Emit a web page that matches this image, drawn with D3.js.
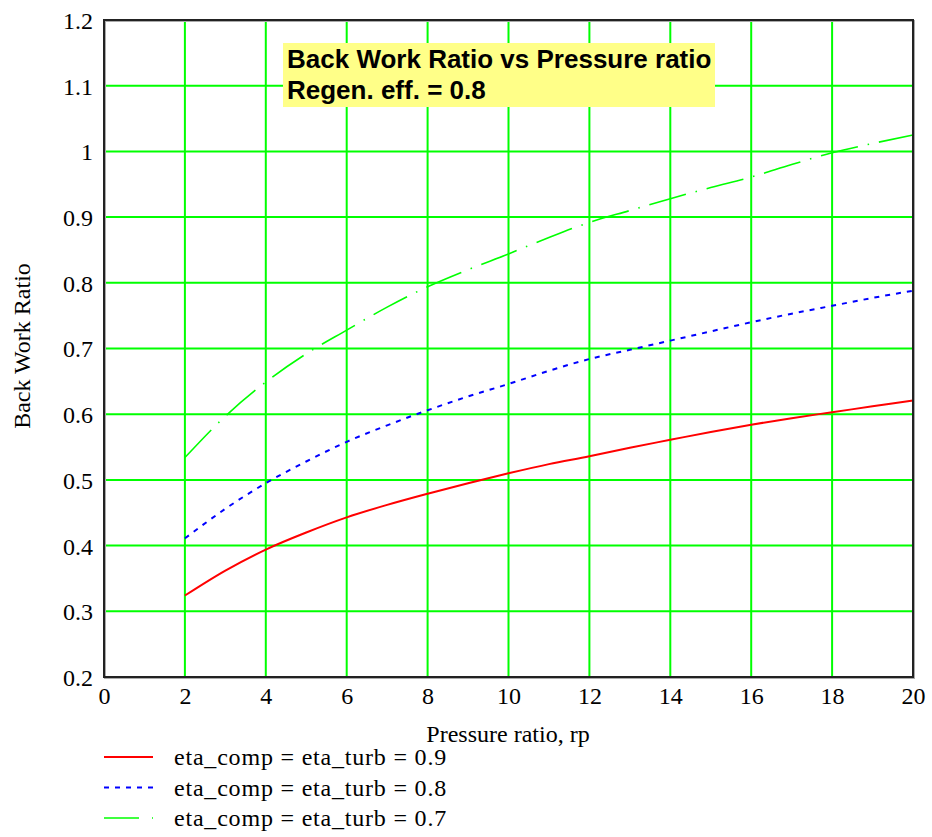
<!DOCTYPE html>
<html>
<head>
<meta charset="utf-8">
<title>Back Work Ratio vs Pressure ratio</title>
<script src="https://cdn.jsdelivr.net/npm/d3@7"></script>
<style>
body { margin: 0; background: #fff; }
</style>
</head>
<body>
<script>
// pressure ratio values
var rp = [2, 3, 4, 5, 6, 7, 8, 9, 10, 11, 12, 13, 14, 15, 16, 17, 18, 19, 20];
// back work ratio, eta = 0.9 / 0.8 / 0.7
var bwr09 = [0.324, 0.362, 0.394, 0.420, 0.443, 0.462, 0.479, 0.495, 0.510, 0.524, 0.536, 0.549, 0.561, 0.573, 0.584, 0.594, 0.603, 0.612, 0.621];
var bwr08 = [0.411, 0.456, 0.495, 0.528, 0.558, 0.583, 0.606, 0.627, 0.646, 0.666, 0.684, 0.698, 0.712, 0.726, 0.740, 0.753, 0.765, 0.777, 0.788];
var bwr07 = [0.534, 0.597, 0.649, 0.692, 0.728, 0.763, 0.794, 0.820, 0.844, 0.869, 0.892, 0.910, 0.928, 0.945, 0.961, 0.980, 0.998, 1.012, 1.025];
var xTicks = [0, 2, 4, 6, 8, 10, 12, 14, 16, 18, 20];
var yTicks = [0.2, 0.3, 0.4, 0.5, 0.6, 0.7, 0.8, 0.9, 1, 1.1, 1.2];
var seriesNames = ["eta_comp = eta_turb = 0.9", "eta_comp = eta_turb = 0.8", "eta_comp = eta_turb = 0.7"];

var w = 932, h = 837;
var pLeft = 104, pRight = 913, pTop = 20, pBottom = 677;

var svg = d3.select("body").append("svg")
    .attr("width", w)
    .attr("height", h);

var x = d3.scaleLinear().domain([0, 20]).range([pLeft, pRight]);
var y = d3.scaleLinear().domain([0.2, 1.2]).range([pBottom, pTop]);

var serif = "'Liberation Serif', 'Times New Roman', serif";

// grid
svg.append("g").selectAll("line")
    .data(xTicks.slice(1))
    .enter().append("line")
    .attr("x1", function(d) { return x(d); })
    .attr("x2", function(d) { return x(d); })
    .attr("y1", pTop).attr("y2", pBottom)
    .attr("stroke", "#00ff00").attr("stroke-width", 2);

svg.append("g").selectAll("line")
    .data(yTicks.slice(1))
    .enter().append("line")
    .attr("y1", function(d) { return y(d); })
    .attr("y2", function(d) { return y(d); })
    .attr("x1", pLeft).attr("x2", pRight)
    .attr("stroke", "#00ff00").attr("stroke-width", 2);

// title box
var tg = svg.append("g");
tg.append("rect")
    .attr("x", 283).attr("y", 43).attr("width", 432).attr("height", 64)
    .attr("fill", "#ffff88");
tg.append("text")
    .attr("x", 287).attr("y", 68)
    .attr("font-family", "'Liberation Sans', Arial, sans-serif")
    .attr("font-weight", "bold").attr("font-size", 26)
    .text("Back Work Ratio vs Pressure ratio");
tg.append("text")
    .attr("x", 287).attr("y", 99)
    .attr("font-family", "'Liberation Sans', Arial, sans-serif")
    .attr("font-weight", "bold").attr("font-size", 26)
    .text("Regen. eff. = 0.8");

// curves
var styles = [
    { data: bwr09, color: "#ff0000", dash: null, width: 2 },
    { data: bwr08, color: "#0000ff", dash: "5,6", width: 2 },
    { data: bwr07, color: "#00ff00", dash: "38,10,1.5,10", width: 1.6 }
];

var line = d3.line()
    .x(function(d) { return x(d[0]); })
    .y(function(d) { return y(d[1]); })
    .curve(d3.curveMonotoneX);

styles.forEach(function(s) {
    svg.append("path")
        .datum(rp.map(function(r, i) { return [r, s.data[i]]; }))
        .attr("d", line)
        .attr("fill", "none")
        .attr("stroke", s.color)
        .attr("stroke-width", s.width)
        .attr("stroke-dasharray", s.dash);
});

// frame
svg.append("rect")
    .attr("x", pLeft + 1).attr("y", pTop + 1)
    .attr("width", pRight - pLeft).attr("height", pBottom - pTop)
    .attr("fill", "none").attr("stroke", "#aaa").attr("stroke-width", 2);
svg.append("rect")
    .attr("x", pLeft).attr("y", pTop)
    .attr("width", pRight - pLeft).attr("height", pBottom - pTop)
    .attr("fill", "none").attr("stroke", "#222").attr("stroke-width", 2);

// axes (labels only)
var xAxis = svg.append("g")
    .attr("transform", "translate(0," + pBottom + ")")
    .call(d3.axisBottom(x).tickValues(xTicks).tickSize(0).tickPadding(10).tickFormat(d3.format("d")));
var yAxis = svg.append("g")
    .attr("transform", "translate(" + pLeft + ",0)")
    .call(d3.axisLeft(y).tickValues(yTicks).tickSize(0).tickPadding(11).tickFormat(function(d) { return d3.format("~g")(d); }));

[xAxis, yAxis].forEach(function(a) {
    a.select(".domain").remove();
    a.selectAll("text")
        .attr("font-family", serif)
        .attr("font-size", 24)
        .attr("fill", "#000");
});
yAxis.selectAll("text").attr("dy", "0.35em");

svg.append("text")
    .attr("x", 508).attr("y", 742)
    .attr("text-anchor", "middle")
    .attr("font-family", serif).attr("font-size", 24)
    .text("Pressure ratio, rp");

svg.append("text")
    .attr("transform", "translate(30,346) rotate(-90)")
    .attr("text-anchor", "middle")
    .attr("font-family", serif).attr("font-size", 24)
    .text("Back Work Ratio");

// legend
var leg = svg.append("g");
styles.forEach(function(s, i) {
    var ly = 757 + i * 30.5;
    leg.append("line")
        .attr("x1", 104).attr("x2", 153)
        .attr("y1", ly).attr("y2", ly)
        .attr("stroke", s.color)
        .attr("stroke-width", s.width)
        .attr("stroke-dasharray", i == 2 ? "35,13,1.5,10" : s.dash);
    leg.append("text")
        .attr("x", 174).attr("y", ly + 8)
        .attr("font-family", serif).attr("font-size", 24)
        .attr("letter-spacing", 0.8)
        .text(seriesNames[i]);
});
</script>
</body>
</html>
